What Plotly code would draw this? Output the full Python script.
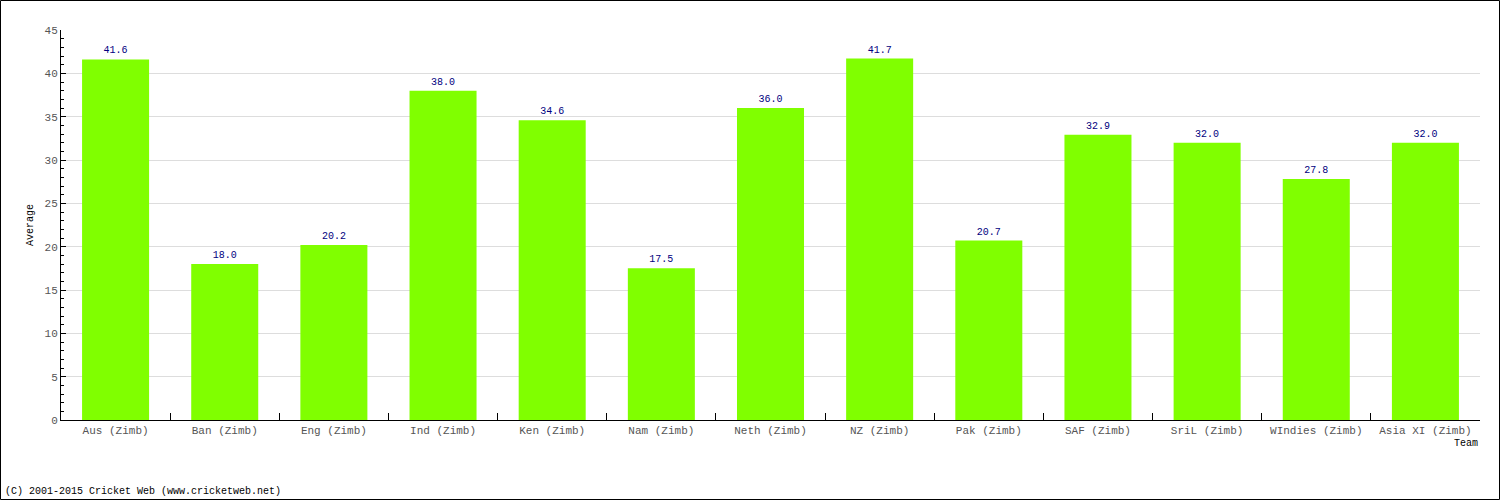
import plotly.graph_objects as go

teams = ["Aus (Zimb)", "Ban (Zimb)", "Eng (Zimb)", "Ind (Zimb)", "Ken (Zimb)", "Nam (Zimb)",
         "Neth (Zimb)", "NZ (Zimb)", "Pak (Zimb)", "SAF (Zimb)", "SriL (Zimb)", "WIndies (Zimb)",
         "Asia XI (Zimb)"]
averages = [41.6, 18.0, 20.2, 38.0, 34.6, 17.5, 36.0, 41.7, 20.7, 32.9, 32.0, 27.8, 32.0]
labels = [f"{v:.1f}" for v in averages]

W, H = 1500, 500
L, R, T, B = 61, 20, 30, 80
PW, PH = W - L - R, H - T - B

def px2x(px):
    return (px - L) / PW

def py2y(py):
    return (H - B - py) / PH

MONO = "Liberation Mono, DejaVu Sans Mono, monospace"

fig = go.Figure(go.Bar(
    x=teams, y=averages, text=labels, textposition="outside",
    textfont=dict(color="#000080", size=10, family=MONO),
    marker=dict(color="#80ff00", line=dict(width=0)),
    cliponaxis=False, hoverinfo="x+y",
))

fig.update_layout(
    width=W, height=H, autosize=False,
    margin=dict(l=L, r=R, t=T, b=B, pad=0),
    paper_bgcolor="white", plot_bgcolor="white",
    bargap=0.386, showlegend=False,
    font=dict(family=MONO, size=11, color="#555555"),
    xaxis=dict(
        type="category", showline=True, linecolor="black", linewidth=1,
        ticks="inside", tickson="boundaries", ticklen=7, tickcolor="black",
        showgrid=False, tickfont=dict(size=11, color="#555555", family=MONO),
        fixedrange=True,
    ),
    yaxis=dict(
        range=[0, 45], dtick=5, tick0=0, showline=True, linecolor="black", linewidth=1,
        ticks="inside", ticklen=5, tickcolor="black",
        minor=dict(dtick=1, ticks="inside", ticklen=3, tickcolor="black", showgrid=False),
        showgrid=True, gridcolor="#dddddd", gridwidth=1, zeroline=False,
        tickfont=dict(size=11, color="#555555", family=MONO),
        fixedrange=True,
    ),
    annotations=[
        dict(text="Average", x=px2x(30), y=0.5, xref="paper", yref="paper",
             textangle=-90, showarrow=False, xanchor="center", yanchor="middle",
             font=dict(size=10, color="black", family=MONO)),
        dict(text="Team", x=1, y=py2y(443), xref="paper", yref="paper",
             showarrow=False, xanchor="right", yanchor="middle",
             font=dict(size=10, color="black", family=MONO)),
        dict(text="(C) 2001-2015 Cricket Web (www.cricketweb.net)", x=px2x(3), y=py2y(491),
             xref="paper", yref="paper", showarrow=False, xanchor="left", yanchor="middle",
             font=dict(size=10, color="black", family=MONO)),
    ],
    shapes=[
        dict(type="rect", xref="paper", yref="paper",
             x0=px2x(0.5), x1=px2x(W - 0.5), y0=py2y(H - 0.5), y1=py2y(0.5),
             line=dict(color="black", width=1), fillcolor="rgba(0,0,0,0)", layer="above"),
    ],
)

fig.write_html("out.html", config={"displayModeBar": False},
               post_script="document.body.style.margin='0';document.body.style.padding='0';document.body.style.overflow='hidden';")
